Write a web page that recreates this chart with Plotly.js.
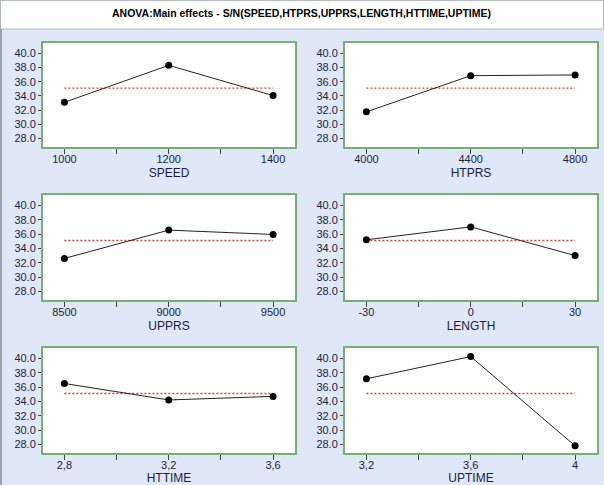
<!DOCTYPE html>
<html>
<head>
<meta charset="utf-8">
<script src="https://cdn.plot.ly/plotly-3.0.1.min.js"></script>
<style>html,body{margin:0;padding:0;background:#dfe8f7;}#chart{width:604px;height:485px;}</style>
</head>
<body>
<div id="chart"></div>
<script>
// ---- data ----
const factorNames = ["SPEED", "HTPRS", "UPPRS", "LENGTH", "HTTIME", "UPTIME"];
const speedLevels = [1000, 1200, 1400];
const speedSN = [33.1, 38.3, 34.05];
const htprsLevels = [4000, 4400, 4800];
const htprsSN = [31.75, 36.85, 36.95];
const upprsLevels = [8500, 9000, 9500];
const upprsSN = [32.6, 36.55, 35.95];
const lengthLevels = [-30, 0, 30];
const lengthSN = [35.2, 37.0, 33.0];
const httimeLevels = [2.8, 3.2, 3.6];
const httimeSN = [36.5, 34.2, 34.7];
const uptimeLevels = [3.2, 3.6, 4.0];
const uptimeSN = [37.15, 40.25, 27.8];
const speedLabels = ["1000", "1200", "1400"];
const htprsLabels = ["4000", "4400", "4800"];
const upprsLabels = ["8500", "9000", "9500"];
const lengthLabels = ["-30", "0", "30"];
const httimeLabels = ["2,8", "3,2", "3,6"];
const uptimeLabels = ["3,2", "3,6", "4"];
const overallMean = 35.1;
const yTickVals = [28, 30, 32, 34, 36, 38, 40];

const levels = [speedLevels, htprsLevels, upprsLevels, lengthLevels, httimeLevels, uptimeLevels];
const values = [speedSN, htprsSN, upprsSN, lengthSN, httimeSN, uptimeSN];
const labels = [speedLabels, htprsLabels, upprsLabels, lengthLabels, httimeLabels, uptimeLabels];

// ---- layout geometry (pixels) ----
const W = 604, H = 485;
const colPx = [[43, 295], [345, 597]];
const rowPx = [[43, 147], [195, 300], [348, 453]];

const green = "#74b074";
const traces = [];
const layout = {
  width: W, height: H,
  margin: {l: 0, r: 0, t: 0, b: 0},
  paper_bgcolor: "#dfe8f7",
  plot_bgcolor: "#ffffff",
  showlegend: false,
  font: {family: "Liberation Sans, Arial, sans-serif", size: 11, color: "#1c1c3c"},
  shapes: [
    {type: "rect", xref: "paper", yref: "paper", x0: 0.5 / W, x1: 1 - 0.5 / W, y0: 1 - 29 / H, y1: 1 - 0.5 / H,
     fillcolor: "#ffffff", line: {color: "#b4b8bc", width: 1}, layer: "below"},
    {type: "line", xref: "paper", yref: "paper", x0: 1 / W, x1: 1 / W, y0: 0, y1: 1 - 29 / H,
     line: {color: "#9aa3ad", width: 2}}
  ],
  annotations: [
    {text: "ANOVA:Main effects - S/N(SPEED,HTPRS,UPPRS,LENGTH,HTTIME,UPTIME)",
     xref: "paper", yref: "paper", x: 301 / W, y: 1 - 13 / H, xanchor: "center", yanchor: "middle",
     showarrow: false, font: {family: "Liberation Sans, Arial, sans-serif", size: 10.5, color: "#000000", weight: "bold"}}
  ]
};

for (let i = 0; i < 6; i++) {
  const col = i % 2, row = Math.floor(i / 2);
  const sfx = i === 0 ? "" : String(i + 1);
  const xa = "x" + sfx, ya = "y" + sfx;
  const lv = levels[i];
  const step = lv[1] - lv[0];
  const mids = [(lv[0] + lv[1]) / 2, (lv[1] + lv[2]) / 2];

  traces.push({
    x: [lv[0], lv[2]], y: [overallMean, overallMean], xaxis: xa, yaxis: ya,
    mode: "lines", line: {color: "#e83a3a", width: 1.3, dash: "2px,2px"}, hoverinfo: "skip"
  });
  traces.push({
    x: lv, y: values[i], xaxis: xa, yaxis: ya,
    mode: "lines+markers", line: {color: "#222222", width: 1},
    marker: {color: "#000000", size: 7}
  });

  const [px0, px1] = colPx[col];
  const [py0, py1] = rowPx[row];
  layout["xaxis" + sfx] = {
    domain: [px0 / W, px1 / W],
    anchor: ya,
    range: [lv[0] - 0.205 * step, lv[2] + 0.21 * step],
    tickvals: [lv[0], mids[0], lv[1], mids[1], lv[2]],
    ticktext: [labels[i][0], "", labels[i][1], "", labels[i][2]],
    ticks: "outside", ticklen: 5, tickcolor: "#444444", tickwidth: 1,
    ticklabelstandoff: -4,
    showgrid: false, zeroline: false,
    showline: true, mirror: true, linecolor: green, linewidth: 2,
    tickfont: {size: 11, color: "#1c1c3c"},
    title: {text: factorNames[i], font: {size: 12, color: "#1c1c3c"}, standoff: 4},
    fixedrange: true
  };
  layout["yaxis" + sfx] = {
    domain: [1 - py1 / H, 1 - py0 / H],
    anchor: xa,
    range: [26.8, 41.45],
    tickvals: yTickVals,
    tickformat: ".1f",
    ticks: "outside", ticklen: 3, tickcolor: "#444444", tickwidth: 1,
    showgrid: false, zeroline: false,
    showline: true, mirror: true, linecolor: green, linewidth: 2,
    tickfont: {size: 11, color: "#1c1c3c"},
    fixedrange: true
  };
}

Plotly.newPlot("chart", traces, layout, {staticPlot: true, displayModeBar: false});
</script>
</body>
</html>
